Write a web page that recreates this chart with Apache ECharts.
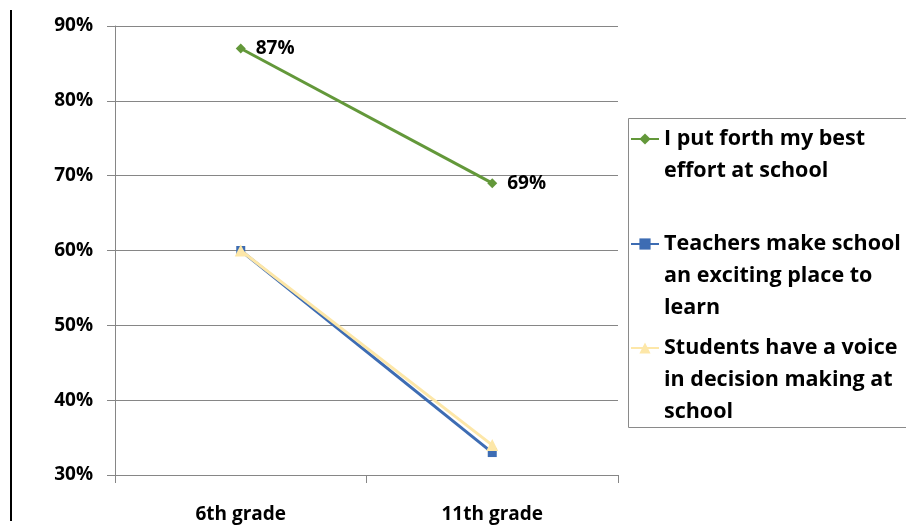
<!DOCTYPE html>
<html>
<head>
<meta charset="utf-8">
<script src="https://cdn.jsdelivr.net/npm/echarts@6/dist/echarts.min.js"></script>
<style>
html, body { margin: 0; padding: 0; background: #fff; }
#chart { width: 906px; height: 529px; }
</style>
</head>
<body>
<div id="chart"></div>
<script>
var grades = ['6th grade', '11th grade'];
var effortVals = [87, 69];
var teachersVals = [60, 33];
var voiceVals = [60, 34];
var seriesNames = [
    'I put forth my best\neffort at school',
    'Teachers make school\nan exciting place to\nlearn',
    'Students have a voice\nin decision making at\nschool'
];
var yTicks = { min: 30, max: 90, step: 10 };

var font = '"Open Sans", Lato, sans-serif';
var gridColor = '#868686';

// legend text is centred on the icon, so pad the front with blank lines
// to get the icon next to the first line instead
function makeLegend(name, top) {
    return {
        show: true,
        orient: 'vertical',
        left: 630,
        top: top,
        padding: 0,
        itemWidth: 28,
        itemHeight: 14,
        data: [name],
        formatter: function (n) {
            var lines = n.split('\n').length;
            return new Array(lines).join('\n') + n;
        },
        textStyle: {
            fontFamily: font,
            fontWeight: 'bold',
            fontSize: 21.5,
            color: '#000',
            lineHeight: 32
        }
    };
}

var myChart = echarts.init(document.getElementById('chart'));
var option = {
    animation: false,
    backgroundColor: '#fff',
    grid: { left: 115, right: 288, top: 26, bottom: 54 },
    legend: [
        makeLegend(seriesNames[0], 91),
        makeLegend(seriesNames[1], 164),
        makeLegend(seriesNames[2], 268)
    ],
    graphic: [
        {
            type: 'line',
            shape: { x1: 11, y1: 10, x2: 11, y2: 521 },
            style: { stroke: '#000', lineWidth: 2 }
        },
        {
            type: 'rect',
            shape: { x: 628.5, y: 118.5, width: 290, height: 309 },
            style: { fill: 'none', stroke: '#8a8a8a', lineWidth: 1 }
        }
    ],
    xAxis: {
        type: 'category',
        data: grades,
        boundaryGap: true,
        axisLine: { show: true, lineStyle: { color: gridColor, width: 1 } },
        axisTick: { show: true, length: 8, lineStyle: { color: gridColor } },
        axisLabel: {
            margin: 30,
            fontFamily: font,
            fontWeight: 'bold',
            fontSize: 19,
            color: '#000'
        },
        splitLine: { show: false }
    },
    yAxis: {
        type: 'value',
        min: yTicks.min,
        max: yTicks.max,
        interval: yTicks.step,
        axisLine: { show: true, lineStyle: { color: gridColor, width: 1 } },
        axisTick: { show: true, length: 8, lineStyle: { color: gridColor } },
        axisLabel: {
            formatter: '{value}%',
            margin: 22,
            fontFamily: font,
            fontWeight: 'bold',
            fontSize: 19,
            color: '#000'
        },
        splitLine: { show: true, lineStyle: { color: gridColor, width: 1 } }
    },
    series: [
        {
            name: seriesNames[0],
            type: 'line',
            data: effortVals,
            symbol: 'diamond',
            symbolSize: 10,
            z: 4,
            itemStyle: { color: '#63983a' },
            lineStyle: { color: '#63983a', width: 3 },
            label: {
                show: true,
                position: 'right',
                distance: 10,
                formatter: '{c}%',
                fontFamily: font,
                fontWeight: 'bold',
                fontSize: 19,
                color: '#000'
            }
        },
        {
            name: seriesNames[1],
            type: 'line',
            data: teachersVals,
            symbol: 'rect',
            symbolSize: 9,
            z: 2,
            itemStyle: { color: '#3d6cb3' },
            lineStyle: { color: '#3d6cb3', width: 3 }
        },
        {
            name: seriesNames[2],
            type: 'line',
            data: voiceVals,
            symbol: 'triangle',
            symbolSize: 12,
            z: 3,
            itemStyle: { color: '#fde7a8' },
            lineStyle: { color: '#fde7a8', width: 3 }
        }
    ]
};
myChart.setOption(option);
</script>
</body>
</html>
